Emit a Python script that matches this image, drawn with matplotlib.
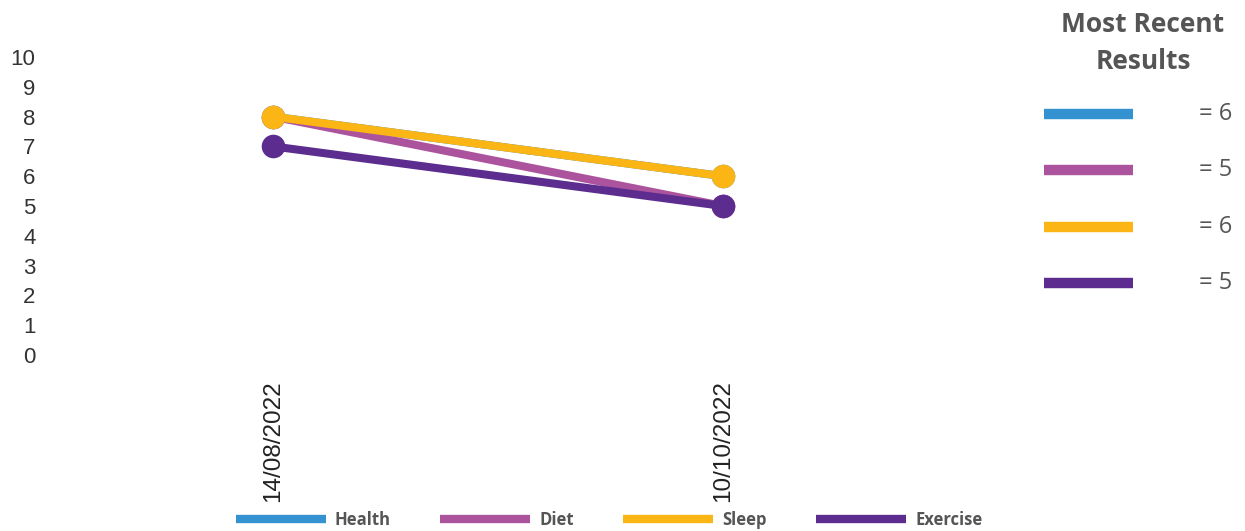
import matplotlib
matplotlib.use("Agg")
import matplotlib.pyplot as plt
from matplotlib.lines import Line2D

# ---- data ----
dates = ["14/08/2022", "10/10/2022"]
series_names = ["Health", "Diet", "Sleep", "Exercise"]
health = [8, 6]
diet = [8, 5]
sleep = [8, 6]
exercise = [7, 5]
y_ticks = list(range(0, 11))

colors = ["#3592d1", "#ab539d", "#fbb615", "#5c2d8f"]
series = [health, diet, sleep, exercise]

W, H = 1245, 531
DPI = 100
fig = plt.figure(figsize=(W / DPI, H / DPI), dpi=DPI)
fig.patch.set_facecolor("white")


def fx(px):
    return px / W


def fy(py):
    return 1 - py / H


# main plot area
ax = fig.add_axes([fx(48), fy(355), fx(900), (355 - 57) / H])
xs = list(range(len(dates)))
for vals, c in zip(series, colors):
    ax.plot(xs, vals, color=c, lw=5.8, marker="o", markersize=17,
            markeredgewidth=0, solid_capstyle="round")

ax.set_xlim(-0.5, 1.5)
ax.set_ylim(0, 10)
ax.set_yticks(y_ticks)
ax.set_yticklabels([str(t) for t in y_ticks])
ax.set_xticks(xs)
ax.set_xticklabels(dates, rotation=90, va="top", ha="center")
for s in ax.spines.values():
    s.set_visible(False)
ax.tick_params(axis="y", length=0, pad=9, labelsize=16, labelcolor="#333333")
ax.tick_params(axis="x", length=0, pad=18, labelsize=17.5, labelcolor="#222222")
for lab in ax.get_yticklabels():
    lab.set_fontfamily("Liberation Sans")
for lab in ax.get_xticklabels():
    lab.set_fontfamily("Liberation Sans")

# bottom legend
handles = [Line2D([0], [0], color=c, lw=6, solid_capstyle="butt") for c in colors]
leg = fig.legend(handles, series_names, loc="center", bbox_to_anchor=(fx(609), fy(520)),
                 ncol=4, frameon=False, handlelength=5.4, handletextpad=0.55,
                 columnspacing=2.95, borderaxespad=0, borderpad=0,
                 prop={"family": "Open Sans", "weight": "bold", "size": 12})
for t in leg.get_texts():
    t.set_color("#555555")

# right-hand summary panel
pax = fig.add_axes([0, 0, 1, 1], facecolor="none")
pax.set_xlim(0, W)
pax.set_ylim(H, 0)
pax.axis("off")
pax.text(1143, 43, "Most Recent\nResults", ha="center", va="center",
         fontsize=19, fontweight="bold", family="Open Sans", color="#555555",
         linespacing=1.45)
row_y = [114, 170, 227, 283]
for vals, c, yy in zip(series, colors, row_y):
    pax.plot([1044, 1133], [yy, yy], color=c, lw=7.5, solid_capstyle="butt")
    pax.text(1232, yy, f"= {vals[-1]}", ha="right", va="center", fontsize=17,
             family="Open Sans", color="#555555")

fig.savefig("out.png", dpi=DPI, facecolor="white")
